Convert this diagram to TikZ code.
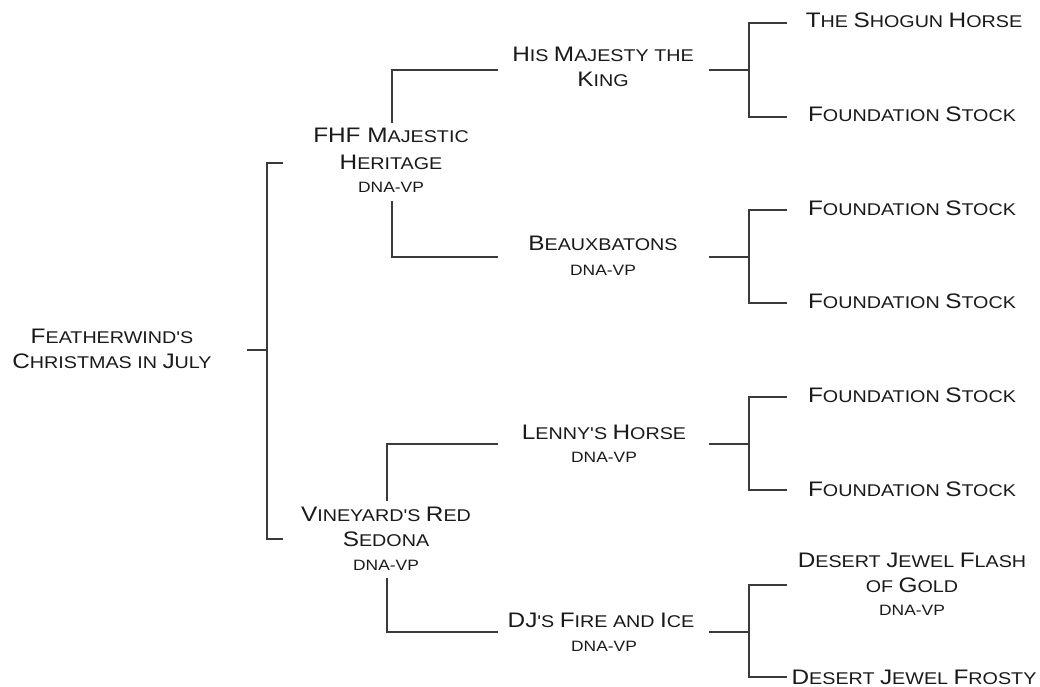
\documentclass[tikz,border=0pt]{standalone}
\usepackage{fontspec}
\newfontfamily\cg[FakeStretch=1.16]{Liberation Sans}
\definecolor{linec}{HTML}{3A3A3A}
\definecolor{txt}{HTML}{1A1A1A}
\newcommand\U[1]{{\fontsize{21}{25}\selectfont #1}}
\newcommand\dnavp{{\fontsize{15}{18}\selectfont DNA-VP}}
\begin{document}
\begin{tikzpicture}[x=1pt,y=-1pt,
  ln/.style={line width=1.5pt, draw=linec},
  t/.style={anchor=base, inner sep=0pt, outer sep=0pt, text=txt, font=\cg\fontsize{17}{20}\selectfont}]
\useasboundingbox (0,0) rectangle (1040,687);
\fill[white] (0,0) rectangle (1040,687);

% ---------- text ----------
\node[t] (rootA) at (112,343) {\U{F}EATHERWIND'S};
\node[t] (rootB) at (112,368) {\U{C}HRISTMAS IN \U{J}ULY};

\node[t] (fhfA) at (391,143) {\U{FHF M}AJESTIC};
\node[t] (fhfB) at (391,170) {\U{H}ERITAGE};
\node[t] (fhfC) at (391,193) {\dnavp};

\node[t] (hmA) at (603,62) {\U{H}IS \U{M}AJESTY THE};
\node[t] (hmB) at (603,87) {\U{K}ING};

\node[t] (bxA) at (603,250) {\U{B}EAUXBATONS};
\node[t] (bxB) at (603,275) {\dnavp};

\node[t] (shA) at (914,28) {\U{T}HE \U{S}HOGUN \U{H}ORSE};
\node[t] (fs1) at (912,122) {\U{F}OUNDATION \U{S}TOCK};
\node[t] (fs2) at (912,215) {\U{F}OUNDATION \U{S}TOCK};
\node[t] (fs3) at (912,308) {\U{F}OUNDATION \U{S}TOCK};

\node[t] (vyA) at (386,521) {\U{V}INEYARD'S \U{R}ED};
\node[t] (vyB) at (386,546) {\U{S}EDONA};
\node[t] (vyC) at (386,570) {\dnavp};

\node[t] (lnA) at (604,439) {\U{L}ENNY'S \U{H}ORSE};
\node[t] (lnB) at (604,462) {\dnavp};

\node[t] (djA) at (601,627) {\U{DJ}'S \U{F}IRE AND \U{I}CE};
\node[t] (djB) at (604,651) {\dnavp};

\node[t] (fs4) at (912,402) {\U{F}OUNDATION \U{S}TOCK};
\node[t] (fs5) at (912,496) {\U{F}OUNDATION \U{S}TOCK};

\node[t] (dgA) at (912,567) {\U{D}ESERT \U{J}EWEL \U{F}LASH};
\node[t] (dgB) at (912,592) {OF \U{G}OLD};
\node[t] (dgC) at (912,615) {\dnavp};

\node[t] (dfA) at (914,684) {\U{D}ESERT \U{J}EWEL \U{F}ROSTY};

% ---------- connector points ----------
\coordinate (rs) at (247,350);
\coordinate (rj) at (267,350);
\coordinate (rt) at (283,163);
\coordinate (rb) at (283,539);

\coordinate (fu) at (392,123);
\coordinate (fd) at (392,201);
\coordinate (hmL) at (498,70);
\coordinate (bxL) at (498,257);

\coordinate (vu) at (387,501);
\coordinate (vd) at (387,578);
\coordinate (lnL) at (498,444);
\coordinate (djL) at (498,632);

\coordinate (hmR) at (709,70);
\coordinate (hmJ) at (749,70);
\coordinate (shL) at (787,23);
\coordinate (f1L) at (787,117);

\coordinate (bxR) at (709,257);
\coordinate (bxJ) at (749,257);
\coordinate (f2L) at (787,210);
\coordinate (f3L) at (787,303);

\coordinate (lnR) at (709,444);
\coordinate (lnJ) at (749,444);
\coordinate (f4L) at (787,397);
\coordinate (f5L) at (787,490);

\coordinate (djR) at (709,632);
\coordinate (djJ) at (749,632);
\coordinate (dgL) at (787,585);
\coordinate (dfL) at (787,677);

% ---------- connectors ----------
\draw[ln] (rs) -- (rj);
\draw[ln] (rt) -| (rj) |- (rb);

\draw[ln] (fu) |- (hmL);
\draw[ln] (fd) |- (bxL);
\draw[ln] (vu) |- (lnL);
\draw[ln] (vd) |- (djL);

\draw[ln] (hmR) -- (hmJ);
\draw[ln] (shL) -| (hmJ) |- (f1L);
\draw[ln] (bxR) -- (bxJ);
\draw[ln] (f2L) -| (bxJ) |- (f3L);
\draw[ln] (lnR) -- (lnJ);
\draw[ln] (f4L) -| (lnJ) |- (f5L);
\draw[ln] (djR) -- (djJ);
\draw[ln] (dgL) -| (djJ) |- (dfL);
\end{tikzpicture}
\end{document}
